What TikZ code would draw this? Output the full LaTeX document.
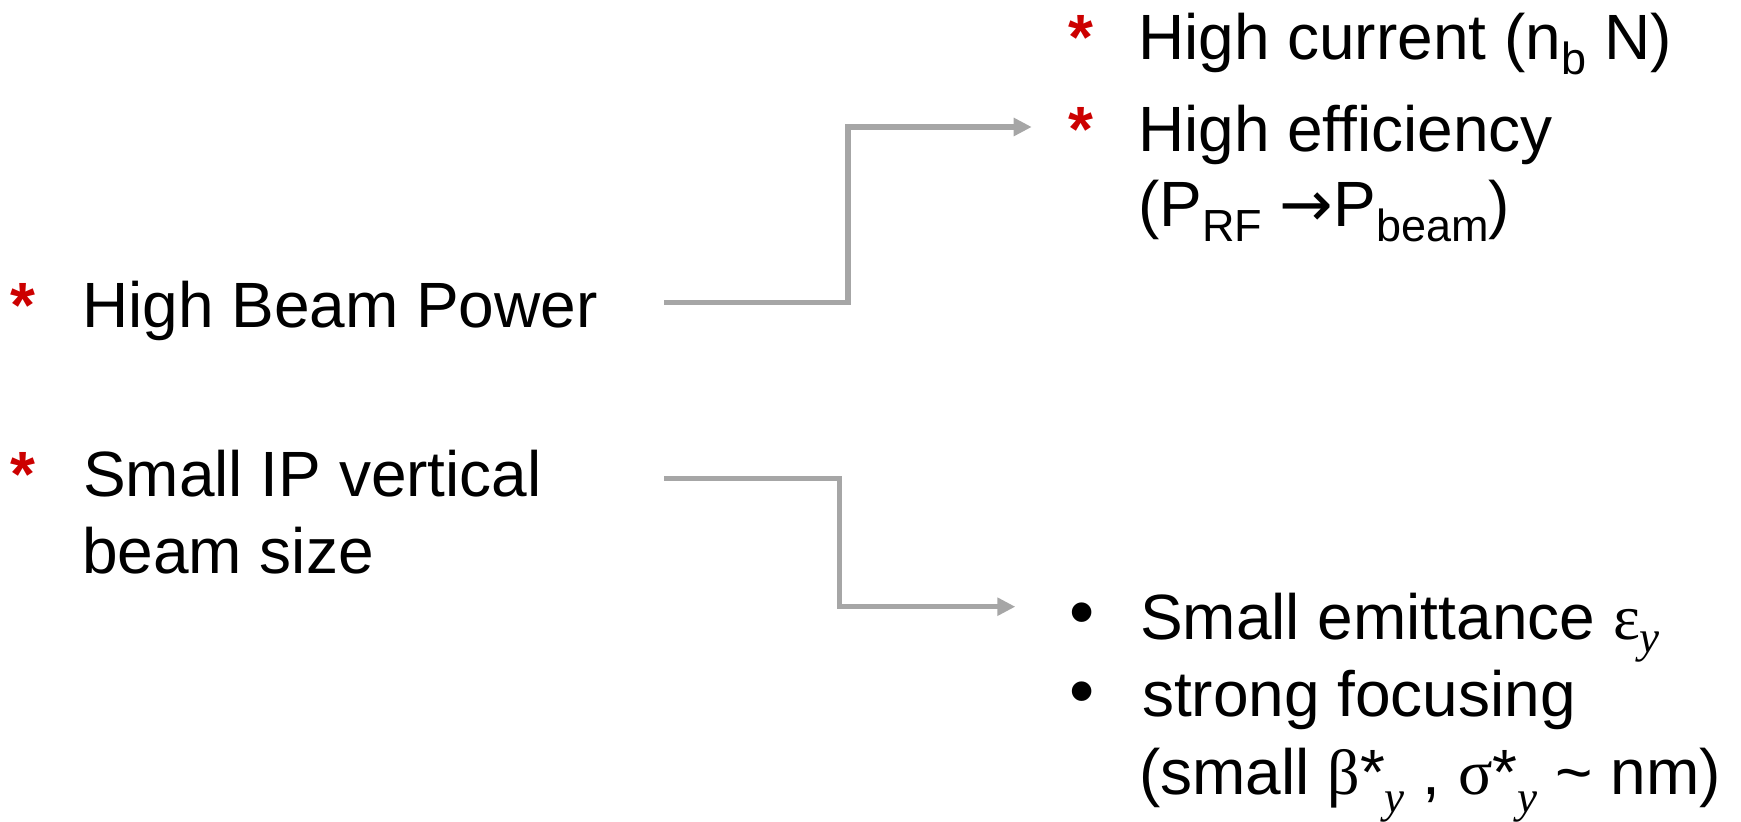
\documentclass[tikz,border=0pt]{standalone}
\usepackage{fontspec}
\setmainfont{Liberation Sans}
\newfontfamily\serifgr{Liberation Serif}
\newfontfamily\arrowfont{DejaVu Sans}
\usetikzlibrary{arrows.meta,calc}
\definecolor{conngray}{HTML}{A6A6A6}
\definecolor{starred}{HTML}{CC0000}
\newcommand\sbx[2][0.23em]{\raisebox{-#1}{\fontsize{45}{45}\selectfont #2}}
\begin{document}
\begin{tikzpicture}[x=1pt,y=1pt,
  txt/.style={font=\fontsize{64}{76}\selectfont, inner sep=0pt, outer sep=0pt, anchor=base west},
  star/.style={txt, text=starred, font=\fontsize{64}{64}\selectfont\bfseries},
  bul/.style={txt, font=\fontsize{72}{72}\selectfont},
  conn/.style={draw=conngray, line width=5.3pt, line join=miter, -{Triangle[length=18pt,width=17.4pt]}}]
\useasboundingbox (0,0) rectangle (1741,822);
% left column
\node[star] (s1) at (10.5,494.3) {*};
\node[txt] (hbp) at (82,494.3) {High Beam Power};
\node[star] (s2) at (10.5,325.3) {*};
\node[txt] (sip1) at (83,325.3) {Small IP vertical};
\node[txt] (sip2) at (82,248.7) {beam size};
% right top
\node[star] (s3) at (1068,762.7) {*};
\node[txt] (hc) at (1138,762.7) {High current (n\sbx{b} N)};
\node[star] (s4) at (1068,670.3) {*};
\node[txt] (he1) at (1138,670.3) {High efficiency};
\node[txt] (he2) at (1138,595.3) {(P\sbx{RF} {\arrowfont →}P\sbx{beam})};
% right bottom
\node[bul] (b1) at (1069.5,185.5) {•};
\node[txt] (se) at (1140,182.7) {Small emittance {\serifgr ε}\sbx[0.2em]{\serifgr\itshape y}};
\node[bul] (b2) at (1069.5,106) {•};
\node[txt] (sf1) at (1142,105.2) {strong focusing};
\node[txt] (sf2) at (1139,27.7) {(small {\serifgr β}*\sbx[0.28em]{\serifgr\itshape y} , {\serifgr σ}*\sbx[0.28em]{\serifgr\itshape y} \textasciitilde{} nm)};
% connectors
\coordinate (c1s) at (664,519.3);
\coordinate (c1e) at (1031.7,695);
\coordinate (c2s) at (664,343.2);
\coordinate (c2e) at (1015.3,215.3);
\draw[conn] (c1s) -| ($(c1s)!0.5!(c1e)$) |- (c1e);
\draw[conn] (c2s) -| ($(c2s)!0.5!(c2e)$) |- (c2e);
\end{tikzpicture}
\end{document}
